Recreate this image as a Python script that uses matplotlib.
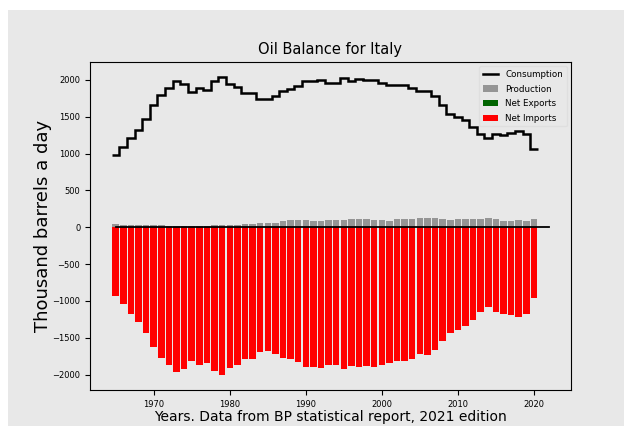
import numpy as np
import matplotlib
matplotlib.use("Agg")
import matplotlib.pyplot as plt
from matplotlib.patches import Rectangle

# ── Data (thousand barrels a day) ──────────────────────────────
years = list(range(1965, 2021))

consumption = [
    982, 1085, 1207, 1320, 1469, 1658, 1793, 1892, 1986, 1942,
    1838, 1896, 1861, 1986, 2040, 1946, 1905, 1828, 1828, 1739,
    1739, 1775, 1851, 1882, 1919, 1986, 1986, 1995, 1964, 1964,
    2023, 1986, 2009, 2000, 2000, 1964, 1932, 1932, 1925, 1896,
    1851, 1851, 1784, 1658, 1536, 1500, 1455, 1365, 1266, 1207,
    1266, 1252, 1275, 1311, 1266, 1063,
]

production = [
    44, 37, 34, 29, 28, 27, 25, 22, 21, 21,
    23, 23, 23, 35, 34, 36, 36, 39, 46, 51,
    55, 57, 79, 93, 93, 94, 90, 89, 92, 96,
    103, 109, 116, 111, 100, 95, 84, 115, 115, 113,
    127, 120, 122, 108, 95, 106, 110, 112, 116, 120,
    113, 80, 84, 94, 89, 106,
]

BG = "#e8e8e8"

yrs = np.array(years)
cons = np.array(consumption, dtype=float)
prod = np.array(production, dtype=float)
balance = prod - cons
net_exports = np.where(balance > 0, balance, 0)
net_imports = np.where(balance < 0, balance, 0)

fig = plt.figure(figsize=(6.29, 4.33), dpi=100)
fig.patch.set_facecolor("white")
fig.patches.append(Rectangle((8 / 629, 1 - 426 / 433), 616 / 629, 416 / 433,
                             transform=fig.transFigure, facecolor=BG,
                             edgecolor="none", zorder=-10))

ax = fig.add_axes([90 / 629, 1 - 390 / 433, 481 / 629, 328 / 433])
ax.set_facecolor(BG)

# ── Marks ──────────────────────────────────────────────────────
edges = np.append(yrs - 0.5, yrs[-1] + 0.5)
ax.stairs(cons, edges, baseline=None, color="black", linewidth=1.8,
          label="Consumption", zorder=4)
ax.bar(yrs, prod, width=0.85, color="#959595", label="Production", zorder=2)
ax.bar(yrs, net_exports, width=0.85, color="#006400", label="Net Exports", zorder=2)
ax.bar(yrs, net_imports, width=0.85, color="red", label="Net Imports", zorder=2)
ax.plot([1965, 2022], [0, 0], color="black", linewidth=1.3, zorder=3)

# ── Axes text ──────────────────────────────────────────────────
ax.set_xticks([1970, 1980, 1990, 2000, 2010, 2020])
ax.set_yticks(range(-2000, 2001, 500))
ax.tick_params(labelsize=6)
ax.set_title("Oil Balance for Italy", fontsize=10.5)
ax.set_xlabel("Years. Data from BP statistical report, 2021 edition",
              fontsize=10, labelpad=1)
ax.set_ylabel("Thousand barrels a day", fontsize=13, labelpad=0)

ax.legend(loc="upper right", fontsize=6.3, frameon=True, labelspacing=0.65,
          handlelength=1.8, facecolor=BG, edgecolor="#dddddd")

fig.savefig("out.png", dpi=100, facecolor="white")
